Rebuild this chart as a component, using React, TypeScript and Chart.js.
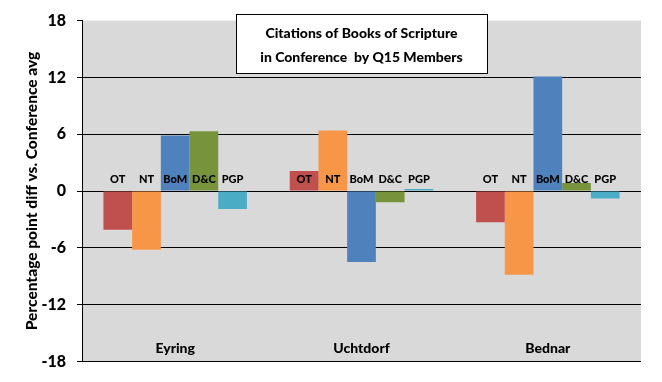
import React, { useEffect, useRef } from "react";
import { Chart, registerables } from "chart.js";

Chart.register(...registerables);

const categories = ["Eyring", "Uchtdorf", "Bednar"];
const seriesNames = ["OT", "NT", "BoM", "D&C", "PGP"];
const otValues = [-4.1, 2.1, -3.3];
const ntValues = [-6.2, 6.4, -8.85];
const bomValues = [5.85, -7.5, 12.1];
const dcValues = [6.3, -1.2, 0.85];
const pgpValues = [-1.9, 0.2, -0.8];
const seriesColors = ["#C0504D", "#F79646", "#4F81BD", "#77933C", "#4BACC6"];
const yTicks = [-18, -12, -6, 0, 6, 12, 18];
const titleLines = ["Citations of Books of Scripture", "in Conference  by Q15 Members"];
const yTitle = "Percentage point diff vs. Conference avg";

const FONT = "Lato, 'Open Sans', sans-serif";

const decorPlugin = {
  id: "decor",
  beforeDraw(chart: any) {
    const { ctx, chartArea } = chart;
    ctx.save();
    ctx.fillStyle = "#FFFFFF";
    ctx.fillRect(0, 0, chart.width, chart.height);
    ctx.fillStyle = "#D9D9D9";
    ctx.fillRect(chartArea.left, chartArea.top, chartArea.right - chartArea.left, chartArea.bottom - chartArea.top);
    ctx.restore();
  },
  afterDatasetsDraw(chart: any) {
    const { ctx, chartArea } = chart;
    const y = chart.scales.y;
    const x = chart.scales.x;
    const zeroY = y.getPixelForValue(0);
    ctx.save();
    // data labels
    ctx.fillStyle = "#000";
    ctx.font = `900 11px ${FONT}`;
    ctx.textAlign = "center";
    ctx.textBaseline = "middle";
    chart.data.datasets.forEach((ds: any, di: number) => {
      const meta = chart.getDatasetMeta(di);
      meta.data.forEach((el: any) => {
        ctx.fillText(ds.label, el.x, zeroY - 12);
      });
    });
    // category labels
    ctx.font = `900 14px ${FONT}`;
    categories.forEach((c, i) => {
      ctx.fillText(c, x.getPixelForValue(i), 348);
    });
    // y title
    ctx.save();
    ctx.translate(32, (chartArea.top + chartArea.bottom) / 2);
    ctx.rotate(-Math.PI / 2);
    ctx.font = `900 15.5px ${FONT}`;
    ctx.fillText(yTitle, 0, 0);
    ctx.restore();
    // title box
    const bx = 236, by = 14, bw = 251, bh = 59;
    ctx.fillStyle = "#FFFFFF";
    ctx.fillRect(bx, by, bw, bh);
    ctx.strokeStyle = "#000";
    ctx.lineWidth = 1;
    ctx.strokeRect(bx + 0.5, by + 0.5, bw, bh);
    ctx.fillStyle = "#000";
    ctx.font = `900 14px ${FONT}`;
    ctx.fillText(titleLines[0], bx + bw / 2, 33);
    ctx.fillText(titleLines[1], bx + bw / 2, 57);
    ctx.restore();
  },
};

export default function App() {
  const ref = useRef<HTMLCanvasElement>(null);
  useEffect(() => {
    const chart = new Chart(ref.current!, {
      type: "bar",
      data: {
        labels: categories,
        datasets: [otValues, ntValues, bomValues, dcValues, pgpValues].map((vals, i) => ({
          label: seriesNames[i],
          data: vals,
          backgroundColor: seriesColors[i],
          borderWidth: 0,
          categoryPercentage: 0.77,
          barPercentage: 1,
        })),
      },
      options: {
        animation: false,
        responsive: false,
        devicePixelRatio: 1,
        layout: { padding: { left: 0, top: 19, right: 21, bottom: 19 } },
        plugins: { legend: { display: false }, tooltip: { enabled: false }, title: { display: false } },
        scales: {
          x: { display: false },
          y: {
            min: -18,
            max: 18,
            afterBuildTicks(scale: any) {
              scale.ticks = yTicks.map((v) => ({ value: v }));
            },
            afterFit(scale: any) {
              scale.width = 82;
            },
            border: { display: true, color: "#000", width: 1 },
            grid: {
              color: (c: any) => (c.tick && c.tick.value === 18 ? "rgba(0,0,0,0)" : "#000"),
              tickColor: "#000",
              tickLength: 5,
              lineWidth: 1,
            },
            ticks: {
              color: "#000",
              padding: 11,
              font: { family: FONT, size: 16, weight: "900" },
            },
          },
        },
      },
      plugins: [decorPlugin],
    });
    return () => chart.destroy();
  }, []);
  return (
    <div style={{ position: "fixed", left: 0, top: 0, width: 662, height: 382, background: "#fff" }}>
      <canvas ref={ref} width={662} height={382} style={{ width: 662, height: 382 }} />
    </div>
  );
}
